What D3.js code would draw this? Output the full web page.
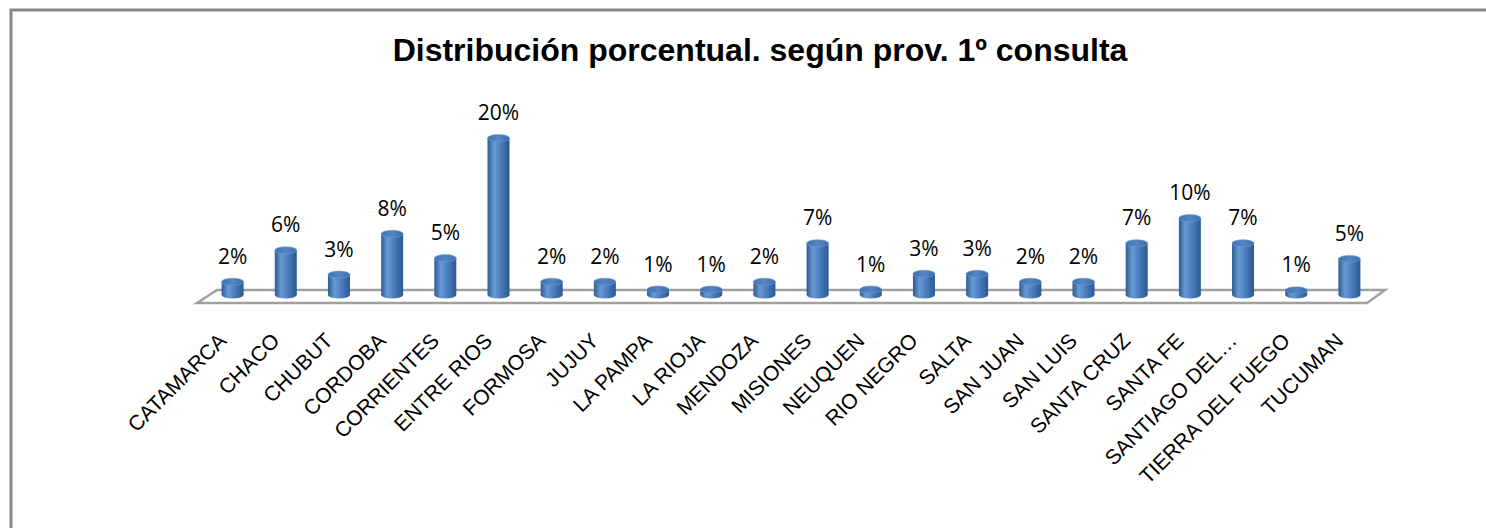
<!DOCTYPE html>
<html>
<head>
<meta charset="utf-8">
<script src="https://cdn.jsdelivr.net/npm/d3@7"></script>
<style>
  html, body { margin: 0; padding: 0; background: #fff; }
  svg { display: block; }
</style>
</head>
<body>
<svg id="chart" width="1486" height="528"></svg>
<script>
// data
const titleText = "Distribución porcentual. según prov. 1º consulta";
const provincias = ["CATAMARCA", "CHACO", "CHUBUT", "CORDOBA", "CORRIENTES", "ENTRE RIOS", "FORMOSA",
  "JUJUY", "LA PAMPA", "LA RIOJA", "MENDOZA", "MISIONES", "NEUQUEN", "RIO NEGRO", "SALTA", "SAN JUAN",
  "SAN LUIS", "SANTA CRUZ", "SANTA FE", "SANTIAGO DEL…", "TIERRA DEL FUEGO", "TUCUMAN"];
const porcentajes = [0.017, 0.057, 0.026, 0.078, 0.047, 0.200, 0.017,
  0.017, 0.007, 0.007, 0.017, 0.066, 0.007, 0.027, 0.027, 0.017,
  0.017, 0.066, 0.098, 0.066, 0.006, 0.046];

const svg = d3.select("#chart");
const width = 1486, height = 528;

// outer frame (only top and left visible)
svg.append("path")
  .attr("d", `M11,${height} L11,10 L${width},10`)
  .attr("fill", "none")
  .attr("stroke", "#878787")
  .attr("stroke-width", 3);

svg.append("text")
  .attr("x", 760)
  .attr("y", 61)
  .attr("text-anchor", "middle")
  .style("font", "bold 32px 'Liberation Sans', Arial, sans-serif")
  .attr("fill", "#000")
  .text(titleText);

const data = provincias.map((p, i) => ({ prov: p, value: porcentajes[i] }));

const base = 295;
const x = d3.scaleBand().domain(provincias).range([206, 1376]).padding(0);
const y = d3.scaleLinear().domain([0, 0.2]).range([base, 138]);
const cx = (d) => x(d.prov) + x.bandwidth() / 2;
const barW = 22, ry = 3.5;

// gradients for the cylinders
const defs = svg.append("defs");
const grad = defs.append("linearGradient").attr("id", "cyl").attr("x1", "0%").attr("x2", "100%");
grad.append("stop").attr("offset", "0%").attr("stop-color", "#2d5b93");
grad.append("stop").attr("offset", "30%").attr("stop-color", "#6a9ad5");
grad.append("stop").attr("offset", "60%").attr("stop-color", "#4a7dbd");
grad.append("stop").attr("offset", "100%").attr("stop-color", "#2b5890");
const gradTop = defs.append("linearGradient").attr("id", "cylTop").attr("x1", "0%").attr("x2", "100%");
gradTop.append("stop").attr("offset", "0%").attr("stop-color", "#3f70ad");
gradTop.append("stop").attr("offset", "50%").attr("stop-color", "#5486c4");
gradTop.append("stop").attr("offset", "100%").attr("stop-color", "#3c6ca8");

// floor
const [r0, r1] = x.range();
svg.append("path")
  .attr("d", `M${r0 - 9},${base + 8} L${r0 + 11},${base - 5} L${r1 + 9},${base - 5} L${r1 - 9},${base + 8} Z`)
  .attr("fill", "#fff")
  .attr("stroke", "#a0a0a0")
  .attr("stroke-width", 2.5);

const bars = svg.append("g").selectAll("g").data(data).enter().append("g");

bars.append("ellipse")
  .attr("cx", cx).attr("cy", base)
  .attr("rx", barW / 2).attr("ry", ry)
  .attr("fill", "url(#cyl)");

bars.append("rect")
  .attr("x", (d) => cx(d) - barW / 2)
  .attr("y", (d) => y(d.value))
  .attr("width", barW)
  .attr("height", (d) => base - y(d.value))
  .attr("fill", "url(#cyl)");

bars.append("ellipse")
  .attr("cx", cx).attr("cy", (d) => y(d.value))
  .attr("rx", barW / 2).attr("ry", ry)
  .attr("fill", "url(#cylTop)")
  .attr("stroke", "#6d9bd3")
  .attr("stroke-width", 0.6);

// value labels
svg.append("g").selectAll("text").data(data).enter().append("text")
  .attr("x", cx)
  .attr("y", (d) => y(d.value) - 18)
  .attr("text-anchor", "middle")
  .style("font", "21px 'Open Sans', sans-serif")
  .attr("fill", "#000")
  .text((d) => d3.format(".0%")(d.value));

// category labels, rotated
svg.append("g").selectAll("text").data(data).enter().append("text")
  .attr("transform", (d) => `translate(${cx(d) - 5},${342}) rotate(-45)`)
  .attr("text-anchor", "end")
  .style("font", "21px 'Liberation Sans', Arial, sans-serif")
  .attr("fill", "#000")
  .text((d) => d.prov);
</script>
</body>
</html>
